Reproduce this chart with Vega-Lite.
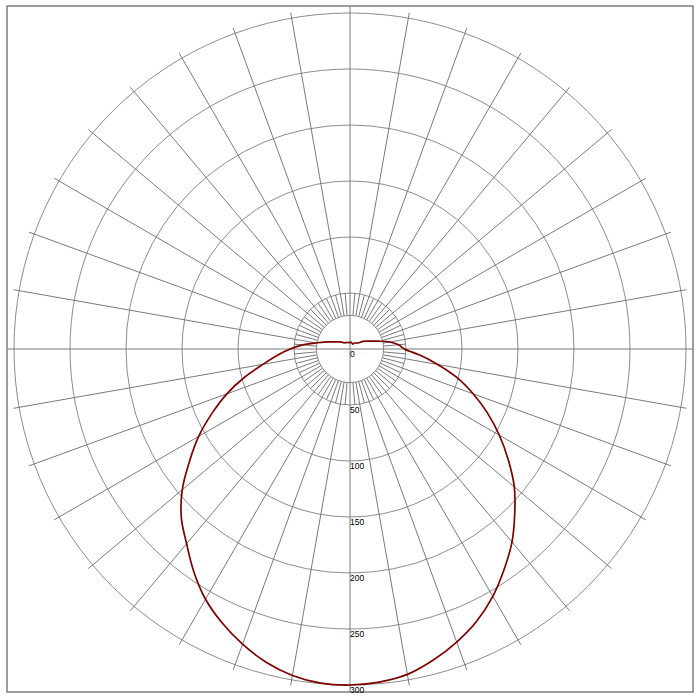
{
  "$schema": "https://vega.github.io/schema/vega-lite/v6.json",
  "width": 686,
  "height": 686,
  "autosize": {"type": "none"},
  "padding": {"left": 7, "top": 6, "right": 7, "bottom": 8},
  "background": "white",
  "config": {"view": {"stroke": "#7f7f7f", "strokeWidth": 1.5}},
  "datasets": {
    "rings": [
      {"r": 30}, {"r": 50}, {"r": 100}, {"r": 150}, {"r": 200}, {"r": 250}, {"r": 300}
    ],
    "spokes": [
      {"angle": 0, "r0": -306, "r1": 306},
      {"angle": 90, "r0": -306, "r1": 306},
      {"angle": 10, "r0": 30, "r1": 305}, {"angle": 20, "r0": 30, "r1": 305},
      {"angle": 30, "r0": 30, "r1": 305}, {"angle": 40, "r0": 30, "r1": 305},
      {"angle": 50, "r0": 30, "r1": 305}, {"angle": 60, "r0": 30, "r1": 305},
      {"angle": 70, "r0": 30, "r1": 305}, {"angle": 80, "r0": 30, "r1": 305},
      {"angle": 100, "r0": 30, "r1": 305}, {"angle": 110, "r0": 30, "r1": 305},
      {"angle": 120, "r0": 30, "r1": 305}, {"angle": 130, "r0": 30, "r1": 305},
      {"angle": 140, "r0": 30, "r1": 305}, {"angle": 150, "r0": 30, "r1": 305},
      {"angle": 160, "r0": 30, "r1": 305}, {"angle": 170, "r0": 30, "r1": 305},
      {"angle": -10, "r0": 30, "r1": 305}, {"angle": -20, "r0": 30, "r1": 305},
      {"angle": -30, "r0": 30, "r1": 305}, {"angle": -40, "r0": 30, "r1": 305},
      {"angle": -50, "r0": 30, "r1": 305}, {"angle": -60, "r0": 30, "r1": 305},
      {"angle": -70, "r0": 30, "r1": 305}, {"angle": -80, "r0": 30, "r1": 305},
      {"angle": -100, "r0": 30, "r1": 305}, {"angle": -110, "r0": 30, "r1": 305},
      {"angle": -120, "r0": 30, "r1": 305}, {"angle": -130, "r0": 30, "r1": 305},
      {"angle": -140, "r0": 30, "r1": 305}, {"angle": -150, "r0": 30, "r1": 305},
      {"angle": -160, "r0": 30, "r1": 305}, {"angle": -170, "r0": 30, "r1": 305},
      {"angle": 5, "r0": 30, "r1": 50}, {"angle": 15, "r0": 30, "r1": 50},
      {"angle": 25, "r0": 30, "r1": 50}, {"angle": 35, "r0": 30, "r1": 50},
      {"angle": 45, "r0": 30, "r1": 50}, {"angle": 55, "r0": 30, "r1": 50},
      {"angle": 65, "r0": 30, "r1": 50}, {"angle": 75, "r0": 30, "r1": 50},
      {"angle": 85, "r0": 30, "r1": 50}, {"angle": 95, "r0": 30, "r1": 50},
      {"angle": 105, "r0": 30, "r1": 50}, {"angle": 115, "r0": 30, "r1": 50},
      {"angle": 125, "r0": 30, "r1": 50}, {"angle": 135, "r0": 30, "r1": 50},
      {"angle": 145, "r0": 30, "r1": 50}, {"angle": 155, "r0": 30, "r1": 50},
      {"angle": 165, "r0": 30, "r1": 50}, {"angle": 175, "r0": 30, "r1": 50},
      {"angle": -5, "r0": 30, "r1": 50}, {"angle": -15, "r0": 30, "r1": 50},
      {"angle": -25, "r0": 30, "r1": 50}, {"angle": -35, "r0": 30, "r1": 50},
      {"angle": -45, "r0": 30, "r1": 50}, {"angle": -55, "r0": 30, "r1": 50},
      {"angle": -65, "r0": 30, "r1": 50}, {"angle": -75, "r0": 30, "r1": 50},
      {"angle": -85, "r0": 30, "r1": 50}, {"angle": -95, "r0": 30, "r1": 50},
      {"angle": -105, "r0": 30, "r1": 50}, {"angle": -115, "r0": 30, "r1": 50},
      {"angle": -125, "r0": 30, "r1": 50}, {"angle": -135, "r0": 30, "r1": 50},
      {"angle": -145, "r0": 30, "r1": 50}, {"angle": -155, "r0": 30, "r1": 50},
      {"angle": -165, "r0": 30, "r1": 50}, {"angle": -175, "r0": 30, "r1": 50}
    ],
    "labels": [
      {"r": 0, "label": "0"}, {"r": 50, "label": "50"}, {"r": 100, "label": "100"},
      {"r": 150, "label": "150"}, {"r": 200, "label": "200"}, {"r": 250, "label": "250"},
      {"r": 300, "label": "300"}
    ],
    "curve": [
      {"angle": -180, "cd": 5.8}, {"angle": -175, "cd": 5.6}, {"angle": -170, "cd": 5.8},
      {"angle": -165, "cd": 6.0}, {"angle": -160, "cd": 6.2}, {"angle": -155, "cd": 6.4},
      {"angle": -150, "cd": 6.6}, {"angle": -145, "cd": 6.9}, {"angle": -140, "cd": 7.3},
      {"angle": -135, "cd": 7.6}, {"angle": -130, "cd": 9.5}, {"angle": -125, "cd": 11.2},
      {"angle": -120, "cd": 12.6}, {"angle": -115, "cd": 14.9}, {"angle": -110, "cd": 18.4},
      {"angle": -105, "cd": 24}, {"angle": -100, "cd": 31}, {"angle": -95, "cd": 42.5},
      {"angle": -90, "cd": 53.5}, {"angle": -85, "cd": 65}, {"angle": -80, "cd": 79},
      {"angle": -75, "cd": 97.5}, {"angle": -70, "cd": 117}, {"angle": -65, "cd": 136},
      {"angle": -60, "cd": 156}, {"angle": -55, "cd": 175}, {"angle": -50, "cd": 195.5},
      {"angle": -45, "cd": 213}, {"angle": -40, "cd": 227}, {"angle": -35, "cd": 243},
      {"angle": -30, "cd": 258}, {"angle": -25, "cd": 270}, {"angle": -20, "cd": 280.5},
      {"angle": -15, "cd": 289.5}, {"angle": -10, "cd": 296}, {"angle": -5, "cd": 299.5},
      {"angle": 0, "cd": 300}, {"angle": 5, "cd": 298.5}, {"angle": 10, "cd": 295},
      {"angle": 15, "cd": 287.5}, {"angle": 20, "cd": 278.5}, {"angle": 25, "cd": 268},
      {"angle": 30, "cd": 255}, {"angle": 35, "cd": 240}, {"angle": 40, "cd": 225},
      {"angle": 45, "cd": 208}, {"angle": 50, "cd": 191.5}, {"angle": 55, "cd": 172.5},
      {"angle": 60, "cd": 154}, {"angle": 65, "cd": 135.5}, {"angle": 70, "cd": 117},
      {"angle": 75, "cd": 99}, {"angle": 80, "cd": 79.5}, {"angle": 85, "cd": 62.5},
      {"angle": 90, "cd": 48.5}, {"angle": 95, "cd": 43.5}, {"angle": 100, "cd": 36},
      {"angle": 105, "cd": 27}, {"angle": 110, "cd": 20.5}, {"angle": 115, "cd": 16.5},
      {"angle": 120, "cd": 13.5}, {"angle": 125, "cd": 9.8}, {"angle": 130, "cd": 8.2},
      {"angle": 135, "cd": 7.6}, {"angle": 140, "cd": 7.0}, {"angle": 145, "cd": 6.2},
      {"angle": 150, "cd": 5.1}, {"angle": 155, "cd": 5.2}, {"angle": 160, "cd": 5.4},
      {"angle": 165, "cd": 5.8}, {"angle": 170, "cd": 6.0}, {"angle": 175, "cd": 6.2},
      {"angle": 180, "cd": 5.8}
    ]
  },
  "layer": [
    {
      "data": {"name": "rings"},
      "mark": {"type": "arc", "theta": 0, "theta2": 6.2832, "filled": false, "color": "#8c8c8c", "strokeWidth": 1},
      "encoding": {
        "radius": {"field": "r", "type": "quantitative", "stack": null, "scale": {"type": "linear", "domain": [0, 306.25], "zero": true}}
      }
    },
    {
      "data": {"name": "spokes"},
      "transform": [
        {"calculate": "datum.r0 * sin(datum.angle * PI / 180)", "as": "x0"},
        {"calculate": "-datum.r0 * cos(datum.angle * PI / 180)", "as": "y0"},
        {"calculate": "datum.r1 * sin(datum.angle * PI / 180)", "as": "x1"},
        {"calculate": "-datum.r1 * cos(datum.angle * PI / 180)", "as": "y1"}
      ],
      "mark": {"type": "rule", "color": "#7a7a7a", "strokeWidth": 1},
      "encoding": {
        "x": {"field": "x0", "type": "quantitative", "scale": {"domain": [-306.25, 306.25], "nice": false, "zero": false}, "axis": null},
        "y": {"field": "y0", "type": "quantitative", "scale": {"domain": [-306.25, 306.25], "nice": false, "zero": false}, "axis": null},
        "x2": {"field": "x1"},
        "y2": {"field": "y1"}
      }
    },
    {
      "data": {"name": "labels"},
      "transform": [
        {"calculate": "0", "as": "lx"},
        {"calculate": "-datum.r", "as": "ly"}
      ],
      "mark": {"type": "text", "align": "left", "baseline": "top", "dx": 0, "dy": 1, "font": "Liberation Sans", "fontSize": 8.5, "color": "#000000"},
      "encoding": {
        "x": {"field": "lx", "type": "quantitative"},
        "y": {"field": "ly", "type": "quantitative"},
        "text": {"field": "label"}
      }
    },
    {
      "data": {"name": "curve"},
      "transform": [
        {"calculate": "datum.cd * sin(datum.angle * PI / 180)", "as": "cx"},
        {"calculate": "-datum.cd * cos(datum.angle * PI / 180)", "as": "cy"}
      ],
      "mark": {"type": "line", "color": "#7a0000", "strokeWidth": 1.7, "interpolate": "catmull-rom"},
      "encoding": {
        "x": {"field": "cx", "type": "quantitative"},
        "y": {"field": "cy", "type": "quantitative"},
        "order": {"field": "angle", "type": "quantitative"}
      }
    }
  ]
}
